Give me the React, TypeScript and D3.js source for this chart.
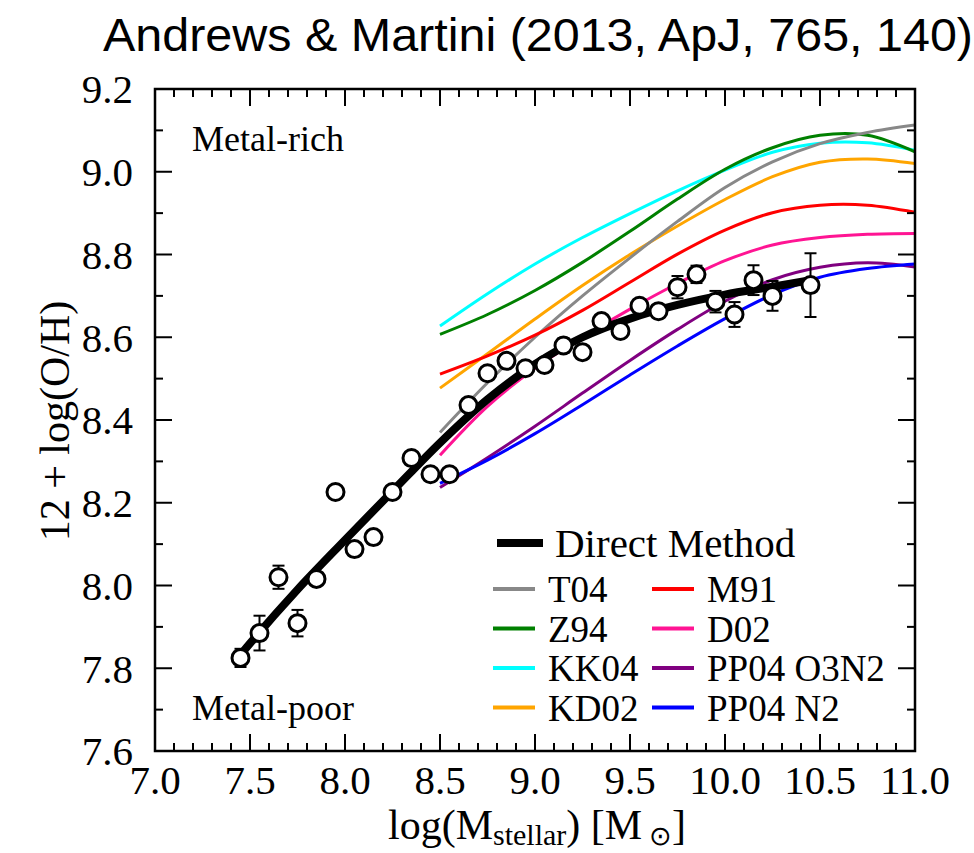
import * as d3 from 'd3'

const W = 974
const H = 853
const M = { left: 155, right: 915, top: 89, bottom: 751 }
const SERIF = '"Liberation Serif", "Times New Roman", serif'

// stacked direct-method bins
const massBins = [
  7.45, 7.55, 7.65, 7.75, 7.85, 7.95, 8.05, 8.15, 8.25, 8.35, 8.45, 8.55, 8.65, 8.75, 8.85,
  8.95, 9.05, 9.15, 9.25, 9.35, 9.45, 9.55, 9.65, 9.75, 9.85, 9.95, 10.05, 10.15, 10.25, 10.45,
]
const ohDirect = [
  7.825, 7.885, 8.02, 7.909, 8.016, 8.226, 8.088, 8.117, 8.226, 8.308, 8.269, 8.269, 8.436, 8.513, 8.543,
  8.525, 8.533, 8.58, 8.564, 8.639, 8.615, 8.676, 8.663, 8.721, 8.752, 8.686, 8.655, 8.738, 8.7, 8.726,
]
const ohErr = [
  0.022, 0.042, 0.028, 0.032, 0.015, 0.015, 0.015, 0.015, 0.015, 0.015, 0.015, 0.015, 0.015, 0.015, 0.015,
  0.015, 0.015, 0.018, 0.015, 0.015, 0.015, 0.015, 0.015, 0.027, 0.021, 0.026, 0.03, 0.036, 0.036, 0.077,
]

// direct method fit
const fitMass = [7.42, 7.5, 7.75, 8.0, 8.25, 8.5, 8.75, 9.0, 9.25, 9.5, 9.75, 10.0, 10.25, 10.45]
const fitOH = [7.815, 7.86, 7.99, 8.11, 8.228, 8.345, 8.45, 8.535, 8.6, 8.645, 8.678, 8.703, 8.722, 8.738]

// strong-line calibrations
const calMass = [8.5, 8.75, 9.0, 9.25, 9.5, 9.75, 10.0, 10.25, 10.5, 10.75, 11.0]
const t04 = [8.37, 8.49, 8.6, 8.7, 8.792, 8.88, 8.962, 9.024, 9.068, 9.095, 9.113]
const z94 = [8.607, 8.655, 8.713, 8.781, 8.856, 8.934, 9.006, 9.058, 9.088, 9.088, 9.048]
const kk04 = [8.627, 8.705, 8.777, 8.841, 8.899, 8.954, 9.004, 9.047, 9.069, 9.07, 9.052]
const kd02 = [8.477, 8.56, 8.644, 8.725, 8.8, 8.869, 8.933, 8.988, 9.023, 9.031, 9.02]
const m91 = [8.511, 8.555, 8.605, 8.665, 8.733, 8.801, 8.859, 8.901, 8.919, 8.919, 8.902]
const d02 = [8.315, 8.433, 8.525, 8.6, 8.668, 8.73, 8.785, 8.823, 8.841, 8.849, 8.851]
const pp04o3n2 = [8.237, 8.309, 8.385, 8.465, 8.544, 8.619, 8.687, 8.739, 8.769, 8.78, 8.77]
const pp04n2 = [8.247, 8.303, 8.367, 8.437, 8.509, 8.579, 8.645, 8.703, 8.745, 8.766, 8.777]

const SERIES = [
  { name: 'T04', color: '#888888', values: t04 },
  { name: 'Z94', color: '#008000', values: z94 },
  { name: 'KK04', color: '#00ffff', values: kk04 },
  { name: 'KD02', color: '#ffa500', values: kd02 },
  { name: 'M91', color: '#ff0000', values: m91 },
  { name: 'D02', color: '#ff1493', values: d02 },
  { name: 'PP04 O3N2', color: '#800080', values: pp04o3n2 },
  { name: 'PP04 N2', color: '#0000ff', values: pp04n2 },
]
// drawing order (back to front)
const DRAW_ORDER = ['KK04', 'Z94', 'KD02', 'T04', 'M91', 'D02', 'PP04 O3N2', 'PP04 N2']

export default function App() {
  const x = d3.scaleLinear().domain([7, 11]).range([M.left, M.right])
  const y = d3.scaleLinear().domain([7.6, 9.2]).range([M.bottom, M.top])
  const line = d3
    .line<[number, number]>()
    .x((d) => x(d[0]))
    .y((d) => y(d[1]))
    .curve(d3.curveCatmullRom.alpha(0.5))

  const xTicks = d3.range(70, 111).map((v) => v / 10)
  const yTicks = d3.range(76, 93).map((v) => v / 10)
  const xMajor = (v: number) => Math.round(v * 10) % 5 === 0
  const yMajor = (v: number) => Math.round(v * 10) % 2 === 0

  const fitPts = fitMass.map((m, i) => [m, fitOH[i]] as [number, number])

  const leftCol = SERIES.slice(0, 4)
  const rightCol = SERIES.slice(4)

  return (
    <svg
      width={W}
      height={H}
      viewBox={`0 0 ${W} ${H}`}
      style={{ position: 'absolute', left: 0, top: 0, background: '#fff' }}
    >
      <defs>
        <clipPath id="plot">
          <rect x={M.left} y={M.top} width={M.right - M.left} height={M.bottom - M.top} />
        </clipPath>
      </defs>
      <rect width={W} height={H} fill="#fff" />

      <text
        x={103}
        y={51}
        fontFamily='"Liberation Sans", Arial, sans-serif'
        fontSize={46}
        textLength={870}
        lengthAdjust="spacingAndGlyphs"
      >
        Andrews &amp; Martini (2013, ApJ, 765, 140)
      </text>

      {/* calibration curves */}
      <g clipPath="url(#plot)">
        {DRAW_ORDER.map((n) => {
          const s = SERIES.find((q) => q.name === n)!
          return (
            <path
              key={n}
              d={line(calMass.map((m, i) => [m, s.values[i]] as [number, number])) || ''}
              fill="none"
              stroke={s.color}
              strokeWidth={3}
            />
          )
        })}
        <path d={line(fitPts) || ''} fill="none" stroke="#000" strokeWidth={8} />
      </g>

      {/* stacked points */}
      {massBins.map((m, i) => (
        <g key={m} stroke="#000">
          <line x1={x(m)} x2={x(m)} y1={y(ohDirect[i] - ohErr[i])} y2={y(ohDirect[i] + ohErr[i])} strokeWidth={2} />
          <line x1={x(m) - 6} x2={x(m) + 6} y1={y(ohDirect[i] - ohErr[i])} y2={y(ohDirect[i] - ohErr[i])} strokeWidth={2} />
          <line x1={x(m) - 6} x2={x(m) + 6} y1={y(ohDirect[i] + ohErr[i])} y2={y(ohDirect[i] + ohErr[i])} strokeWidth={2} />
          <circle cx={x(m)} cy={y(ohDirect[i])} r={8.5} fill="#fff" strokeWidth={3} />
        </g>
      ))}

      {/* frame and ticks */}
      <rect
        x={M.left}
        y={M.top}
        width={M.right - M.left}
        height={M.bottom - M.top}
        fill="none"
        stroke="#000"
        strokeWidth={2.5}
      />
      {xTicks.map((t) => {
        const len = xMajor(t) ? 17 : 8
        return (
          <g key={`x${t}`} stroke="#000" strokeWidth={2}>
            <line x1={x(t)} x2={x(t)} y1={M.bottom} y2={M.bottom - len} />
            <line x1={x(t)} x2={x(t)} y1={M.top} y2={M.top + len} />
          </g>
        )
      })}
      {yTicks.map((t) => {
        const len = yMajor(t) ? 17 : 8
        return (
          <g key={`y${t}`} stroke="#000" strokeWidth={2}>
            <line x1={M.left} x2={M.left + len} y1={y(t)} y2={y(t)} />
            <line x1={M.right} x2={M.right - len} y1={y(t)} y2={y(t)} />
          </g>
        )
      })}

      <g fontFamily={SERIF} fontSize={41} fill="#000">
        {xTicks.filter(xMajor).map((t) => (
          <text key={`xl${t}`} x={x(t)} y={794} textAnchor="middle">
            {t.toFixed(1)}
          </text>
        ))}
        {yTicks.filter(yMajor).map((t) => (
          <text key={`yl${t}`} x={133} y={y(t)} dy="0.35em" textAnchor="end">
            {t.toFixed(1)}
          </text>
        ))}
      </g>

      {/* axis titles */}
      <text x={537} y={839} textAnchor="middle" fontFamily={SERIF} fontSize={42}>
        log(M
        <tspan fontSize={30} dy={6}>stellar</tspan>
        <tspan dy={-6}>) [M</tspan>
        <tspan fontSize={27} dy={6}> ⊙</tspan>
        <tspan dy={-6}>]</tspan>
      </text>
      <text
        transform="translate(69,421) rotate(-90)"
        textAnchor="middle"
        fontFamily={SERIF}
        fontSize={42}
      >
        12 + log(O/H)
      </text>

      <g fontFamily={SERIF} fontSize={36}>
        <text x={192} y={151}>Metal-rich</text>
        <text x={192} y={720}>Metal-poor</text>
      </g>

      {/* legend */}
      <g fontFamily={SERIF}>
        <line x1={497} x2={543} y1={543} y2={543} stroke="#000" strokeWidth={8} />
        <text x={555} y={557} fontSize={41}>Direct Method</text>
        {leftCol.map((s, i) => (
          <g key={s.name}>
            <line x1={493} x2={535} y1={589 + i * 39.5} y2={589 + i * 39.5} stroke={s.color} strokeWidth={4} />
            <text x={548} y={602 + i * 39.5} fontSize={37}>{s.name}</text>
          </g>
        ))}
        {rightCol.map((s, i) => (
          <g key={s.name}>
            <line x1={652} x2={694} y1={589 + i * 39.5} y2={589 + i * 39.5} stroke={s.color} strokeWidth={4} />
            <text x={707} y={602 + i * 39.5} fontSize={37}>{s.name}</text>
          </g>
        ))}
      </g>
    </svg>
  )
}
